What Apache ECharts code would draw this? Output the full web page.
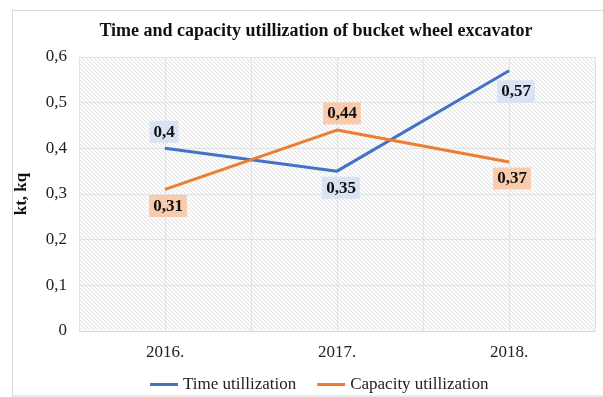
<!DOCTYPE html>
<html>
<head>
<meta charset="utf-8">
<script src="https://cdn.jsdelivr.net/npm/echarts@6/dist/echarts.min.js"></script>
<style>
  html, body { margin: 0; padding: 0; background: #fff; }
  #chart { width: 603px; height: 397px; }
</style>
</head>
<body>
<div id="chart"></div>
<script>
// Chart data
const years = ['2016.', '2017.', '2018.'];
const timeUtil = [0.4, 0.35, 0.57];
const capacityUtil = [0.31, 0.44, 0.37];
const yTicks = [0, 0.1, 0.2, 0.3, 0.4, 0.5, 0.6];

const serif = 'Liberation Serif, Times New Roman, serif';

// Fine diagonal hatching for the plot area
function hatch() {
  const c = document.createElement('canvas');
  c.width = 4; c.height = 4;
  const g = c.getContext('2d');
  g.fillStyle = '#fcfcfc';
  g.fillRect(0, 0, 4, 4);
  g.strokeStyle = '#e2e2e2';
  g.lineWidth = 1;
  g.beginPath();
  g.moveTo(-1, -1); g.lineTo(5, 5);
  g.stroke();
  return c;
}

const fmt = v => String(+v.toFixed(2)).replace('.', ',');

// label placement per point: [position, dx, dy]
const timePlace = [['top', -1, 0], ['bottom', 4, 0], ['bottom', 7, 4]];
const capPlace = [['bottom', 3, 0], ['top', 5, 0], ['bottom', 3, 0]];

function points(values, place, bg) {
  return values.map((v, i) => ({
    value: v,
    label: {
      show: true,
      position: place[i][0],
      offset: [place[i][1], place[i][2]],
      backgroundColor: bg,
      padding: [3, 4, 2, 4],
      color: '#111',
      fontFamily: serif,
      fontWeight: 'bold',
      fontSize: 17,
      formatter: p => fmt(p.value)
    }
  }));
}

const chart = echarts.init(document.getElementById('chart'), null, { renderer: 'canvas' });
chart.setOption({
  animation: false,
  backgroundColor: '#fff',
  graphic: [{
    type: 'rect',
    shape: { x: 12.5, y: 10.5, width: 640, height: 385.5 },
    style: { fill: 'none', stroke: '#d9d9d9', lineWidth: 1 },
    silent: true,
    z: -10
  }],
  title: {
    text: 'Time and capacity utillization of bucket wheel excavator',
    left: 311,
    textAlign: 'center',
    top: 17,
    textStyle: { fontFamily: serif, fontWeight: 'bold', fontSize: 18, color: '#111' }
  },
  grid: {
    left: 79, right: 8, top: 57, bottom: 66,
    show: true,
    borderWidth: 0,
    backgroundColor: { image: hatch(), repeat: 'repeat' }
  },
  legend: {
    left: 145,
    top: 371,
    itemWidth: 28,
    itemHeight: 3,
    itemGap: 21,
    icon: 'rect',
    textStyle: { fontFamily: serif, fontSize: 17, color: '#222' },
    data: ['Time utillization', 'Capacity utillization']
  },
  xAxis: [{
    type: 'category',
    data: years,
    boundaryGap: true,
    axisLine: { show: true, lineStyle: { color: '#d9d9d9', width: 1 } },
    axisTick: { show: false },
    axisLabel: { color: '#222', fontFamily: serif, fontSize: 17, margin: 13 },
    splitLine: { show: false }
  }, {
    // half-category grid lines
    type: 'value',
    min: 0, max: 6, interval: 1,
    show: true,
    position: 'bottom',
    axisLine: { show: false },
    axisTick: { show: false },
    axisLabel: { show: false },
    splitLine: { show: true, lineStyle: { color: '#e3e3e3', width: 1 } }
  }],
  yAxis: {
    type: 'value',
    min: yTicks[0],
    max: yTicks[yTicks.length - 1],
    interval: 0.1,
    name: 'kt, kq',
    nameLocation: 'middle',
    nameGap: 49,
    nameRotate: 90,
    nameTextStyle: { fontFamily: serif, fontWeight: 'bold', fontSize: 17, color: '#111' },
    axisLine: { show: false },
    axisTick: { show: false },
    axisLabel: { color: '#222', fontFamily: serif, fontSize: 17, margin: 12, formatter: v => fmt(v) },
    splitLine: { show: true, lineStyle: { color: '#e3e3e3', width: 1 } }
  },
  series: [{
    name: 'Time utillization',
    type: 'line',
    xAxisIndex: 0,
    data: points(timeUtil, timePlace, '#dae3f3'),
    symbol: 'circle',
    symbolSize: 1,
    color: '#4472c4',
    lineStyle: { width: 3, color: '#4472c4' },
    z: 3
  }, {
    name: 'Capacity utillization',
    type: 'line',
    xAxisIndex: 0,
    data: points(capacityUtil, capPlace, '#f8cbad'),
    symbol: 'circle',
    symbolSize: 1,
    color: '#ed7d31',
    lineStyle: { width: 3, color: '#ed7d31' },
    z: 3
  }]
});
</script>
</body>
</html>
